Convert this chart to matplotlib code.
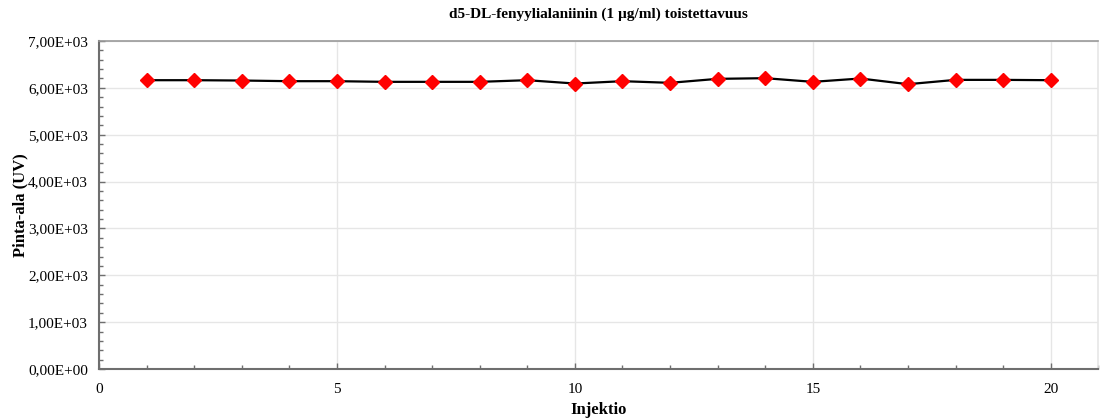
import numpy as np
import matplotlib
matplotlib.use("Agg")
import matplotlib.pyplot as plt
from matplotlib.ticker import FuncFormatter, MultipleLocator

# data
injektio = list(range(1, 21))
pinta_ala = [6163, 6163, 6156, 6142, 6142, 6128, 6128, 6128, 6163, 6092,
             6142, 6107, 6192, 6206, 6128, 6199, 6078, 6170, 6170, 6163]

plt.rcParams['font.family'] = ['Liberation Serif', 'DejaVu Serif']

def sci_comma(v, pos):
    s = f"{v:.2E}"
    return s.replace('.', ',')

fig = plt.figure(figsize=(11, 4.18), dpi=100)
ax = fig.add_axes([0.09, 0.117, 0.9085, 0.785])

ax.plot(injektio, pinta_ala, color='black', lw=1.6, marker='D', ms=7.5,
        mfc='#ff0000', mec='#ff0000', zorder=3)

ax.set_xlim(0, 21)
ax.set_ylim(0, 7000)
ax.xaxis.set_major_locator(MultipleLocator(5))
ax.xaxis.set_minor_locator(MultipleLocator(1))
ax.yaxis.set_major_locator(MultipleLocator(1000))
ax.yaxis.set_minor_locator(MultipleLocator(200))
ax.yaxis.set_major_formatter(FuncFormatter(sci_comma))

ax.grid(True, which='major', color='#e6e6e6', lw=1)
ax.set_axisbelow(True)

for side in ['left', 'bottom']:
    ax.spines[side].set_color('#6e6e6e')
    ax.spines[side].set_linewidth(1.5)
for side in ['top', 'right']:
    ax.spines[side].set_color('#9a9a9a')
    ax.spines[side].set_linewidth(1.2)
ax.spines['right'].set_color('#e6e6e6')

ax.tick_params(which='both', direction='in', colors='#6e6e6e', labelcolor='black',
               labelsize=11)
ax.tick_params(which='major', length=4, width=1)
ax.tick_params(which='minor', length=3, width=1)
ax.tick_params(axis='x', pad=10)
ax.tick_params(axis='y', pad=8)

ax.set_title('d5-DL-fenyylialaniinin (1 µg/ml) toistettavuus', fontsize=11,
             fontweight='bold', pad=17)
ax.set_xlabel('Injektio', fontsize=12, fontweight='bold', labelpad=4)
ax.set_ylabel('Pinta-ala (UV)', fontsize=12, fontweight='bold', labelpad=0)

fig.savefig('out.png', dpi=100)
